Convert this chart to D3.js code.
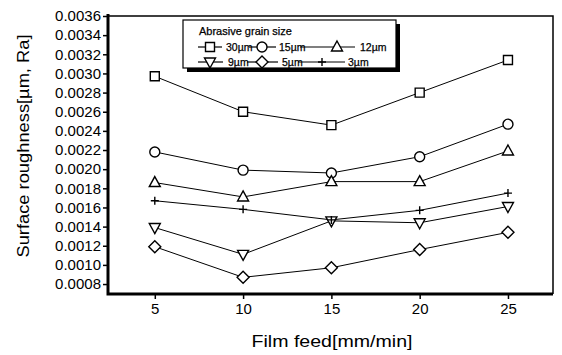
<!DOCTYPE html>
<html>
<head>
<meta charset="utf-8">
<script src="https://cdn.jsdelivr.net/npm/d3@7"></script>
<style>
  body { margin: 0; background: #fff; }
  svg { font-family: "Liberation Sans", Arial, sans-serif; }
</style>
</head>
<body>
<svg width="562" height="355"></svg>
<script>
var feeds = [5, 10, 15, 20, 25];
var grains = ["30\u00b5m", "15\u00b5m", "12\u00b5m", "9\u00b5m", "5\u00b5m", "3\u00b5m"];
var shapes = ["square", "circle", "triangle", "triangleDown", "diamond", "plus"];
var g30 = [0.00297, 0.00260, 0.00246, 0.00280, 0.00314];
var g15 = [0.00218, 0.00199, 0.00196, 0.00213, 0.00247];
var g12 = [0.00186, 0.00171, 0.00187, 0.00187, 0.00219];
var g9  = [0.00139, 0.00111, 0.00146, 0.00144, 0.00161];
var g5  = [0.00119, 0.00087, 0.00097, 0.00116, 0.00134];
var g3  = [0.00167, 0.00158, 0.00147, 0.00157, 0.00175];
var yTicks = d3.range(8, 37, 2).map(d => d / 10000);

var series = [g30, g15, g12, g9, g5, g3].map((v, i) => ({
  name: grains[i], shape: shapes[i], values: v
}));

var svg = d3.select("svg");
var x = d3.scaleLinear().domain([2.35, 27.55]).range([108, 553]);
var y = d3.scaleLinear().domain([0.000696, 0.0036]).range([294, 16]);

// marker path, centred on 0,0
function marker(shape) {
  switch (shape) {
    case "square": return "M-4.5,-4.5H4.5V4.5H-4.5Z";
    case "circle": return "M5,0A5,5 0 1,1 -5,0A5,5 0 1,1 5,0Z";
    case "triangle": return "M0,-6L5.5,4L-5.5,4Z";
    case "triangleDown": return "M0,6L5.5,-4L-5.5,-4Z";
    case "diamond": return "M0,-6L6,0L0,6L-6,0Z";
    case "plus": return "M-4,0H4M0,-4V4";
  }
}

// axes
var yAxis = d3.axisLeft(y).tickValues(yTicks).tickFormat(d3.format(".4f"))
  .tickSize(5).tickPadding(2);
var gy = svg.append("g").attr("transform", "translate(108,0)").call(yAxis);
gy.select(".domain").remove();
gy.selectAll("text").style("font-size", "15px").attr("fill", "#000");
gy.selectAll("line").attr("stroke-width", 1.5);

var xAxis = d3.axisBottom(x).tickValues(feeds).tickSize(5).tickPadding(4);
var gx = svg.append("g").attr("transform", "translate(0,294)").call(xAxis);
gx.select(".domain").remove();
gx.selectAll("text").style("font-size", "15px").attr("fill", "#000");
gx.selectAll("line").attr("stroke-width", 1.5);

// frame
svg.append("path").attr("d", "M108,16H553V294").attr("fill", "none")
  .attr("stroke", "#000").attr("stroke-width", 1.5);
svg.append("path").attr("d", "M108,14V294H553").attr("fill", "none")
  .attr("stroke", "#000").attr("stroke-width", 3);

// lines
var line = d3.line().x((d, i) => x(feeds[i])).y(d => y(d));
svg.append("g").selectAll("path").data(series).enter()
  .append("path")
    .attr("d", d => line(d.values))
    .attr("fill", "none")
    .attr("stroke", "#000")
    .attr("stroke-width", 1);

// markers
series.forEach(s => {
  svg.append("g").selectAll("path").data(s.values).enter()
    .append("path")
      .attr("transform", (d, i) => `translate(${x(feeds[i])},${y(d)})`)
      .attr("d", marker(s.shape))
      .attr("fill", s.shape == "plus" ? "none" : "#fff")
      .attr("stroke", "#000")
      .attr("stroke-width", 1.4);
});

// legend
var narrow = "'Liberation Sans Narrow', 'Liberation Sans', sans-serif";
var lg = svg.append("g");
lg.append("rect").attr("x", 187).attr("y", 24).attr("width", 213).attr("height", 48).attr("fill", "#000");
lg.append("rect").attr("x", 183).attr("y", 20).attr("width", 213).attr("height", 48)
  .attr("fill", "#fff").attr("stroke", "#000").attr("stroke-width", 1.2);
lg.append("text").attr("x", 199).attr("y", 35).text("Abrasive grain size")
  .style("font-size", "11px").style("font-family", narrow)
  .attr("stroke", "#000").attr("stroke-width", 0.25);

// sample start, marker centre, sample end, text start, row
var legendPos = [
  [198, 210, 222, 226, 47],
  [249, 262, 276, 279, 47],
  [300, 337, 355, 360, 47],
  [198, 210, 223, 228, 62],
  [247, 262, 278, 282, 62],
  [298, 322, 345, 348, 62]
];
var items = lg.selectAll("g.item").data(series).enter().append("g").attr("class", "item");
items.append("line")
  .attr("x1", (d, i) => legendPos[i][0])
  .attr("x2", (d, i) => legendPos[i][2])
  .attr("y1", (d, i) => legendPos[i][4])
  .attr("y2", (d, i) => legendPos[i][4])
  .attr("stroke", "#000").attr("stroke-width", 1.2);
items.append("path")
  .attr("transform", (d, i) => `translate(${legendPos[i][1]},${legendPos[i][4]})`)
  .attr("d", d => marker(d.shape))
  .attr("fill", d => d.shape == "plus" ? "none" : "#fff")
  .attr("stroke", "#000").attr("stroke-width", 1.4);
items.append("text")
  .attr("x", (d, i) => legendPos[i][3])
  .attr("y", (d, i) => legendPos[i][4] + 4)
  .text(d => d.name)
  .style("font-size", "10.5px")
  .style("font-family", narrow)
  .attr("stroke", "#000").attr("stroke-width", 0.25);

// axis titles
svg.append("text").attr("x", 332).attr("y", 347).attr("text-anchor", "middle")
  .style("font-size", "17px").attr("textLength", 161).attr("lengthAdjust", "spacingAndGlyphs")
  .text("Film feed[mm/min]");
svg.append("text").attr("transform", "translate(29,146) rotate(-90)")
  .attr("text-anchor", "middle").style("font-size", "17px")
  .attr("textLength", 223).attr("lengthAdjust", "spacingAndGlyphs")
  .text("Surface roughness[\u00b5m, Ra]");
</script>
</body>
</html>
